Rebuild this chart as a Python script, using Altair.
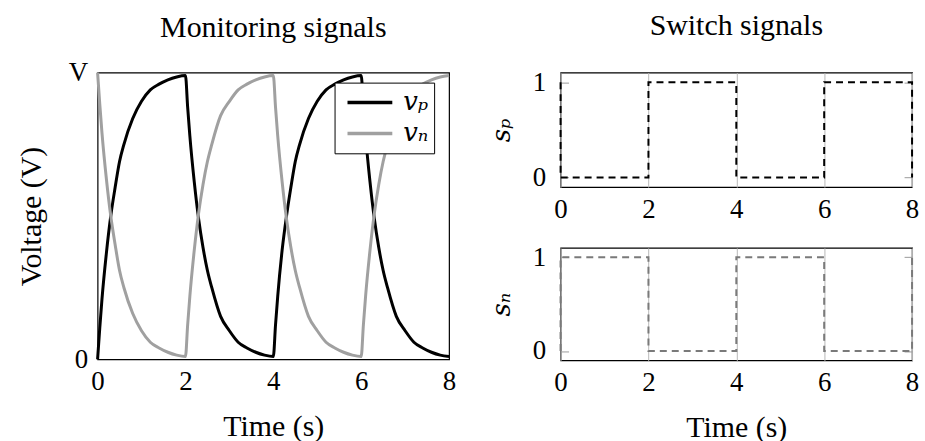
import altair as alt
import pandas as pd

# ---- monitoring signals: capacitor-like charge / discharge curves ----
time_s = [
    0.0, 0.05, 0.1, 0.2, 0.3, 0.4, 0.5, 0.6, 0.8, 1.0, 1.2, 1.4, 1.6, 1.8,
    2.0, 2.05, 2.1, 2.2, 2.3, 2.4, 2.5, 2.6, 2.8, 3.0, 3.2, 3.4, 3.6, 3.8,
    4.0, 4.05, 4.1, 4.2, 4.3, 4.4, 4.5, 4.6, 4.8, 5.0, 5.2, 5.4, 5.6, 5.8,
    6.0, 6.05, 6.1, 6.2, 6.3, 6.4, 6.5, 6.6, 6.8, 7.0, 7.2, 7.4, 7.6, 7.8,
    8.0,
]
v_p = [
    0.00, 0.11, 0.21, 0.37, 0.50, 0.60, 0.69, 0.75, 0.84, 0.90, 0.94, 0.96, 0.975, 0.985,
    0.99, 0.88, 0.78, 0.62, 0.49, 0.39, 0.31, 0.25, 0.15, 0.10, 0.06, 0.04, 0.025, 0.015,
    0.01, 0.12, 0.22, 0.38, 0.50, 0.60, 0.69, 0.75, 0.84, 0.90, 0.94, 0.96, 0.975, 0.985,
    0.99, 0.88, 0.78, 0.62, 0.49, 0.39, 0.31, 0.25, 0.15, 0.10, 0.06, 0.04, 0.025, 0.015,
    0.01,
]
v_n = [
    1.00, 0.89, 0.79, 0.63, 0.50, 0.40, 0.31, 0.25, 0.16, 0.10, 0.06, 0.04, 0.025, 0.015,
    0.01, 0.12, 0.22, 0.38, 0.51, 0.61, 0.69, 0.75, 0.85, 0.90, 0.94, 0.96, 0.975, 0.985,
    0.99, 0.88, 0.78, 0.62, 0.49, 0.39, 0.31, 0.25, 0.15, 0.10, 0.06, 0.04, 0.025, 0.015,
    0.01, 0.12, 0.22, 0.38, 0.51, 0.61, 0.69, 0.75, 0.85, 0.90, 0.94, 0.96, 0.975, 0.985,
    0.99,
]

# ---- switch signals: square waves ----
step_t = [0, 0, 2, 2, 4, 4, 6, 6, 8, 8]
s_p = [1, 0, 0, 1, 1, 0, 0, 1, 1, 0]
s_n = [0, 1, 1, 0, 0, 1, 1, 0, 0, 1]

x_ticks = [0, 2, 4, 6, 8]
series_names = ["vₚ", "vₙ"]
series_colors = ["#000000", "#a0a0a0"]

SERIF = "Liberation Serif"
MATH = "DejaVu Serif"
TITLE_FS = 30
LABEL_FS = 27

monitor = pd.DataFrame(
    {
        "t": time_s * 2,
        "v": v_p + v_n,
        "series": [series_names[0]] * len(time_s) + [series_names[1]] * len(time_s),
        "idx": list(range(len(time_s))) * 2,
    }
)

x_scale = alt.Scale(domain=[0, 8], nice=False, zero=False)


def x_axis(title, grid):
    return alt.Axis(
        values=x_ticks,
        format="d",
        grid=grid,
        gridColor="#b8b8b8",
        gridWidth=1,
        ticks=False,
        domain=False,
        labelFlush=False,
        labelPadding=9,
        labelFont=SERIF,
        labelFontSize=LABEL_FS,
        labelColor="black",
        titleFont=SERIF,
        titleFontSize=TITLE_FS,
        titleFontWeight="normal",
        titleColor="black",
        titlePadding=17,
        title=title,
    )


def panel_title(text, offset):
    return alt.TitleParams(
        text,
        font=SERIF,
        fontSize=TITLE_FS,
        fontWeight="normal",
        color="black",
        anchor="middle",
        frame="group",
        offset=offset,
    )


left = (
    alt.Chart(monitor)
    .mark_line(strokeWidth=3, interpolate="monotone")
    .encode(
        x=alt.X("t:Q", scale=x_scale, axis=x_axis("Time (s)", False)),
        y=alt.Y(
            "v:Q",
            scale=alt.Scale(domain=[0, 1], nice=False),
            axis=alt.Axis(
                values=[0, 1],
                labelExpr="datum.value == 1 ? 'V' : '0'",
                grid=False,
                ticks=False,
                domain=False,
                labelPadding=10,
                labelFont=SERIF,
                labelFontSize=LABEL_FS,
                labelColor="black",
                title="Voltage (V)",
                titleFont=SERIF,
                titleFontSize=TITLE_FS,
                titleFontWeight="normal",
                titleColor="black",
                titlePadding=22,
            ),
        ),
        color=alt.Color(
            "series:N",
            scale=alt.Scale(domain=series_names, range=series_colors),
            legend=alt.Legend(
                title=None,
                orient="none",
                legendX=238,
                legendY=10,
                symbolType="stroke",
                symbolSize=2025,
                symbolStrokeWidth=3.5,
                symbolOffset=6,
                clipHeight=30,
                labelFont=MATH,
                labelFontSize=26,
                labelFontStyle="italic",
                labelColor="black",
                fillColor="white",
                strokeColor="black",
                padding=5,
                rowPadding=1,
                labelOffset=9,
            ),
        ),
        order="idx:Q",
    )
    .properties(width=353, height=288, title=panel_title("Monitoring signals", 16))
)


def switch_panel(values, color, label, x_title, title=None):
    frame = pd.DataFrame({"t": step_t, "s": values, "idx": list(range(len(step_t)))})
    y_scale = alt.Scale(domain=[-0.1, 1.1], nice=False, zero=False)
    base = alt.Chart(frame).encode(
        x=alt.X("t:Q", scale=x_scale, axis=x_axis(x_title, True)),
        order="idx:Q",
    )
    tick_style = dict(
        values=[0, 1],
        offset=-8,
        tickSize=8,
        tickColor="#9a9a9a",
        tickWidth=1,
        domain=False,
        grid=False,
    )
    line = base.mark_line(stroke=color, strokeDash=[7, 5], strokeWidth=2).encode(
        y=alt.Y(
            "s:Q",
            scale=y_scale,
            axis=alt.Axis(
                labelPadding=15,
                labelFont=SERIF,
                labelFontSize=LABEL_FS,
                labelColor="black",
                format="d",
                title=label,
                titleFont=MATH,
                titleFontSize=26,
                titleFontWeight="normal",
                titleFontStyle="italic",
                titleColor="black",
                titlePadding=18,
                **tick_style,
            ),
        )
    )
    ticks_right = base.mark_line(strokeOpacity=0).encode(
        y=alt.Y(
            "s:Q",
            scale=y_scale,
            axis=alt.Axis(orient="right", labels=False, title=None, **tick_style),
        )
    )
    chart = alt.layer(line, ticks_right).resolve_scale(y="independent")
    if title is not None:
        return chart.properties(width=353, height=115, title=panel_title(title, 27))
    return chart.properties(width=353, height=113)


top = switch_panel(s_p, "#000000", "sₚ", None, "Switch signals")
bottom = switch_panel(s_n, "#7a7a7a", "sₙ", "Time (s)")

right = alt.vconcat(top, bottom, spacing=19)

chart = (
    alt.hconcat(left, right, spacing=30)
    .properties(padding={"left": 15, "top": 9, "right": 5, "bottom": 5}, background="white")
    .configure_view(stroke="black", strokeWidth=1.2)
)

chart.save("out.html", embed_options={"renderer": "svg", "actions": False})
